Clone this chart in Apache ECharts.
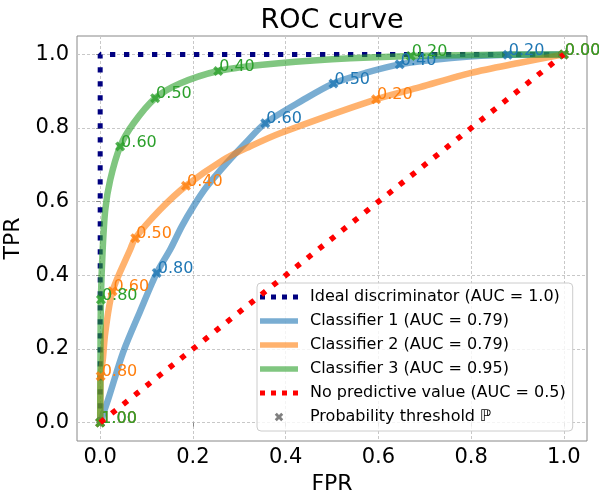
<!DOCTYPE html>
<html>
<head>
<meta charset="utf-8">
<script src="https://cdn.jsdelivr.net/npm/echarts@6/dist/echarts.min.js"></script>
<style>
  html, body { margin: 0; padding: 0; background: #fff; }
  #chart { width: 599px; height: 493px; }
</style>
</head>
<body>
<div id="chart"></div>
<script>
// ROC points (FPR, TPR) for each classifier
const fpr1 = [0, 0.018, 0.05, 0.086, 0.122, 0.151, 0.176, 0.201, 0.23, 0.273, 0.316, 0.356, 0.436, 0.503, 0.576, 0.646, 0.757, 0.879, 1];
const tpr1 = [0, 0.066, 0.193, 0.302, 0.4065, 0.47, 0.533, 0.587, 0.641, 0.705, 0.763, 0.813, 0.875, 0.921, 0.951, 0.973, 0.99, 0.999, 1];

const fpr2 = [0, 0.0005, 0.001, 0.0058, 0.011, 0.0266, 0.0647, 0.0758, 0.129, 0.185, 0.266, 0.323, 0.388, 0.595, 0.69, 0.8, 0.9, 1];
const tpr2 = [0, 0.06, 0.126, 0.172, 0.244, 0.357, 0.47, 0.501, 0.578, 0.643, 0.714, 0.75, 0.786, 0.878, 0.911, 0.95, 0.976, 1];

const fpr3 = [0, 0.0005, 0.0016, 0.005, 0.011, 0.0216, 0.043, 0.072, 0.1185, 0.172, 0.2545, 0.35, 0.5, 0.67, 0.85, 1];
const tpr3 = [0, 0.15, 0.334, 0.46, 0.578, 0.659, 0.75, 0.813, 0.881, 0.921, 0.955, 0.972, 0.987, 0.996, 0.999, 1];

// Probability thresholds marked on each curve
const thresholds = [1.0, 0.8, 0.6, 0.5, 0.4, 0.2, 0.0];
const thrFpr1 = [0, 0.122, 0.356, 0.503, 0.646, 0.879, 1];
const thrTpr1 = [0, 0.4065, 0.813, 0.921, 0.973, 0.999, 1];
const thrFpr2 = [0, 0.001, 0.0266, 0.0758, 0.185, 0.595, 1];
const thrTpr2 = [0, 0.126, 0.357, 0.501, 0.643, 0.878, 1];
const thrFpr3 = [0, 0.0016, 0.043, 0.1185, 0.2545, 0.67, 1];
const thrTpr3 = [0, 0.334, 0.75, 0.881, 0.955, 0.996, 1];

// Reference lines
const idealFpr = [0, 0, 1];
const idealTpr = [0, 1, 1];
const randomFpr = [0, 1];
const randomTpr = [0, 1];

const tickValues = [0, 0.2, 0.4, 0.6, 0.8, 1.0];

const names = {
  ideal: 'Ideal discriminator (AUC = 1.0)',
  c1: 'Classifier 1 (AUC = 0.79)',
  c2: 'Classifier 2 (AUC = 0.79)',
  c3: 'Classifier 3 (AUC = 0.95)',
  random: 'No predictive value (AUC = 0.5)',
  thr: 'Probability threshold \u2119'
};

const FONT = 'DejaVu Sans';
const BLUE = '#1f77b4', ORANGE = '#ff7f0e', GREEN = '#2ca02c';

const zip = (xs, ys) => xs.map((x, i) => [x, ys[i]]);

// Filled "X" marker polygon
function xPoly(cx, cy, s) {
  const p = [[-5,-2.6],[-2.6,-5],[0,-2.4],[2.6,-5],[5,-2.6],[2.4,0],[5,2.6],[2.6,5],[0,2.4],[-2.6,5],[-5,2.6],[-2.4,0]];
  return 'M' + p.map(q => (cx + q[0] * s).toFixed(2) + ',' + (cy + q[1] * s).toFixed(2)).join('L') + 'Z';
}
const X_SYMBOL = 'path://' + xPoly(0, 0, 1);

// Legend icons drawn in a 38x14 box (corner specks fix the box size)
const BOX = 'M0,0h0.01v0.01h-0.01zM38,14h-0.01v-0.01h0.01z';
const ICON_SOLID = 'path://' + BOX + 'M0,4.25h38v5.5h-38z';
const ICON_DOTS = 'path://' + BOX + [0, 11, 22, 33].map(x => 'M' + x + ',4.5h5v5h-5z').join('');
const ICON_X = 'path://' + BOX + xPoly(19, 7, 0.85);

function curve(name, xs, ys, color) {
  return {
    type: 'line', name, data: zip(xs, ys), symbol: 'none', smooth: 0.3,
    lineStyle: { color, width: 6.5, opacity: 0.6, cap: 'butt' },
    itemStyle: { color }, silent: true, z: 2
  };
}
function markers(name, xs, ys, color) {
  return {
    type: 'scatter', name,
    data: xs.map((x, i) => ({ value: [x, ys[i]], name: thresholds[i].toFixed(2) })),
    symbol: X_SYMBOL, symbolSize: 10,
    itemStyle: { color },
    label: {
      show: true, formatter: '{b}', position: [6, 9],
      align: 'left', verticalAlign: 'bottom',
      color, fontSize: 16, fontFamily: FONT,
      textBorderWidth: 0, textBorderColor: 'transparent', opacity: 1
    },
    silent: true, z: 3
  };
}

const chart = echarts.init(document.getElementById('chart'), null, { renderer: 'canvas' });

const axisCommon = {
  type: 'value', min: -0.05, max: 1.05,
  axisLine: { show: false },
  axisTick: { show: true, inside: false, length: 4, customValues: tickValues, lineStyle: { color: '#888', width: 1 } },
  axisLabel: {
    customValues: tickValues, formatter: v => v.toFixed(1),
    color: '#000', fontSize: 21, fontFamily: FONT, margin: 8
  },
  splitLine: { show: true, lineStyle: { color: '#c8c8c8', width: 1, type: [3, 2] } },
  nameLocation: 'middle',
  nameTextStyle: { color: '#000', fontSize: 22, fontFamily: FONT }
};

chart.setOption({
  animation: false,
  backgroundColor: '#fff',
  title: {
    text: 'ROC curve', left: 332, textAlign: 'center', top: 7, padding: 0,
    textStyle: { fontSize: 27, fontWeight: 'normal', color: '#000', fontFamily: FONT }
  },
  grid: {
    left: 77, right: 12, top: 36, bottom: 52, containLabel: false, outerBoundsMode: 'none',
    show: true, borderColor: '#888', borderWidth: 1, backgroundColor: 'transparent'
  },
  xAxis: Object.assign({}, axisCommon, { name: 'FPR', nameGap: 28, axisLabel: Object.assign({}, axisCommon.axisLabel, { margin: 6 }) }),
  yAxis: Object.assign({}, axisCommon, { name: 'TPR', nameGap: 49, nameRotate: 90 }),
  legend: {
    orient: 'vertical', left: 257, top: 283,
    padding: [6, 7, 6, 3], itemGap: 8, itemWidth: 38, itemHeight: 14,
    selectedMode: false,
    backgroundColor: 'rgba(255,255,255,0.8)', borderColor: '#cccccc', borderWidth: 1, borderRadius: 4,
    itemStyle: { borderWidth: 0 },
    textStyle: { fontSize: 16, fontFamily: FONT, color: '#000', lineHeight: 16, padding: [0, 0, 0, 7] },
    data: [
      { name: names.ideal, icon: ICON_DOTS, itemStyle: { color: '#000080', opacity: 1 } },
      { name: names.c1, icon: ICON_SOLID, itemStyle: { color: BLUE, opacity: 0.6 } },
      { name: names.c2, icon: ICON_SOLID, itemStyle: { color: ORANGE, opacity: 0.6 } },
      { name: names.c3, icon: ICON_SOLID, itemStyle: { color: GREEN, opacity: 0.6 } },
      { name: names.random, icon: ICON_DOTS, itemStyle: { color: '#ff0000', opacity: 1 } },
      { name: names.thr, icon: ICON_X, itemStyle: { color: '#808080', opacity: 1 } }
    ]
  },
  series: [
    {
      type: 'line', name: names.ideal, data: zip(idealFpr, idealTpr), symbol: 'none',
      lineStyle: { color: '#000080', width: 5, type: [5.3, 8.7], cap: 'butt' },
      itemStyle: { color: '#000080' }, silent: true, z: 1
    },
    curve(names.c1, fpr1, tpr1, BLUE),
    markers('Classifier 1 thresholds', thrFpr1, thrTpr1, BLUE),
    curve(names.c2, fpr2, tpr2, ORANGE),
    markers('Classifier 2 thresholds', thrFpr2, thrTpr2, ORANGE),
    curve(names.c3, fpr3, tpr3, GREEN),
    markers('Classifier 3 thresholds', thrFpr3, thrTpr3, GREEN),
    {
      type: 'line', name: names.random, data: zip(randomFpr, randomTpr), symbol: 'none',
      lineStyle: { color: '#ff0000', width: 5.5, type: [5.5, 9.2], cap: 'butt' },
      itemStyle: { color: '#ff0000' }, silent: true, z: 4
    },
    {
      type: 'scatter', name: names.thr, data: [], symbol: X_SYMBOL, symbolSize: 10,
      itemStyle: { color: '#808080' }
    }
  ]
});
</script>
</body>
</html>
